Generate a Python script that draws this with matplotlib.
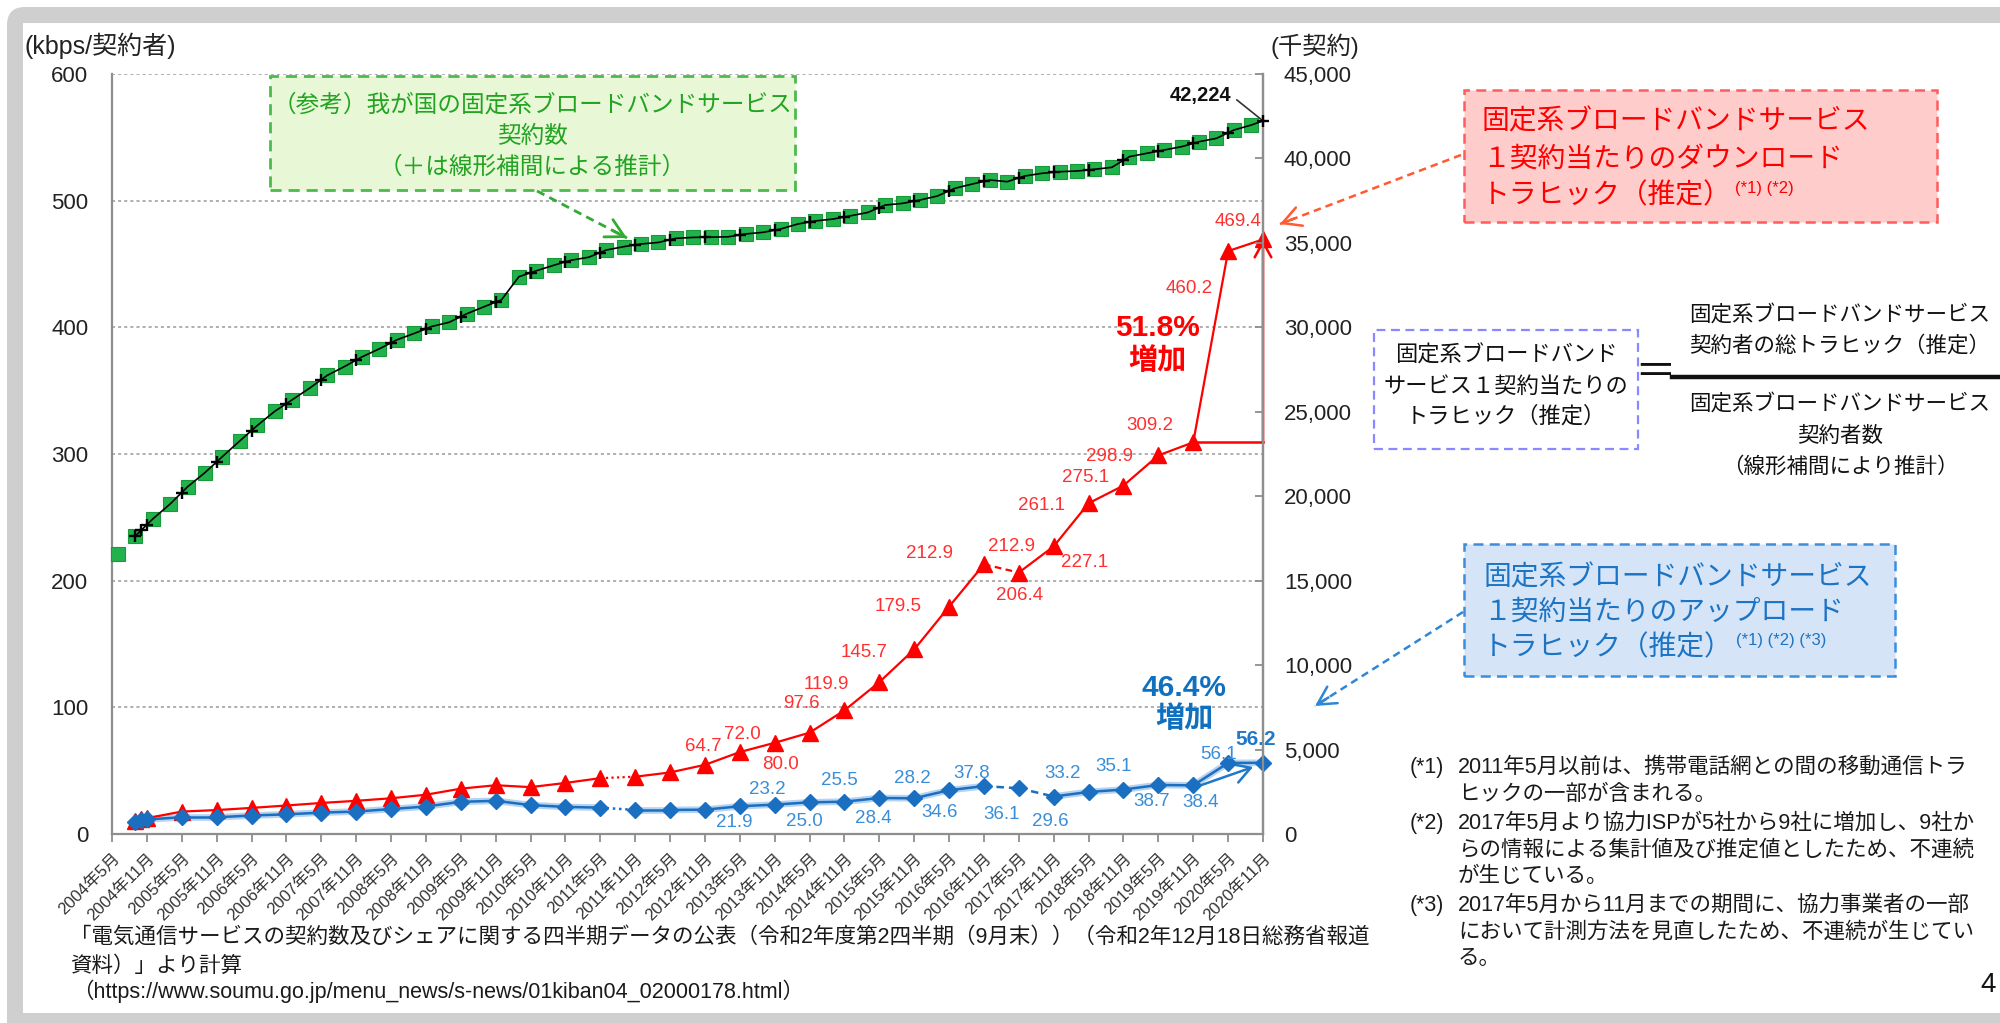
import math
import matplotlib
matplotlib.use("Agg")
import matplotlib.pyplot as plt
from matplotlib.transforms import IdentityTransform
from matplotlib.patches import Rectangle, FancyBboxPatch, FancyArrowPatch
from matplotlib.lines import Line2D
from matplotlib.ticker import FuncFormatter

plt.rcParams['font.family'] = ['Liberation Sans', 'Noto Sans CJK JP', 'DejaVu Sans']
plt.rcParams['axes.unicode_minus'] = False

# ---------------- DATA ----------------
# month index: 0 = 2004年5月, 6 = 2004年11月, ... 198 = 2020年11月
xtick_months = list(range(0, 199, 6))
xtick_labels = [f"{2004 + m // 12}年{5 if m % 12 == 0 else 11}月" for m in xtick_months]

# quarterly broadband subscribers (千契約): Jun 2004 ... Sep 2020
sub_months = list(range(1, 197, 3))
sub_values = [16580, 17640, 18650, 19540, 20560, 21400, 22350, 23280, 24190, 25030,
              25710, 26400, 27150, 27680, 28250, 28730, 29260, 29640, 30050, 30300,
              30800, 31220, 31630, 33000, 33350, 33675, 33975, 34150, 34575, 34775,
              34935, 35025, 35270, 35325, 35340, 35360, 35530, 35625, 35820, 36120,
              36300, 36410, 36600, 36800, 37240, 37340, 37540, 37776, 38232, 38487,
              38724, 38625, 38960, 39120, 39215, 39257, 39356, 39474, 40105, 40304,
              40500, 40697, 40993, 41190, 41684, 41980]
# "+" estimated subscriber counts at traffic months (千契約)
est_months = [4, 5, 6] + list(range(12, 199, 6))
est_values = [17640, 17980, 18310, 20220, 22030, 23890, 25480, 26900, 28060, 29080,
              29910, 30630, 31490, 33230, 33880, 34430, 34880, 35190, 35335, 35470,
              35750, 36240, 36530, 37090, 37470, 38080, 38640, 38850, 39180, 39320,
              39890, 40430, 40890, 41520, 42224]

# traffic per subscriber (kbps)
traffic_months = [4, 5, 6] + list(range(12, 199, 6))
download = [10.0, 11.5, 12.5, 17.7, 18.9, 20.6, 22.5, 24.5, 26.2, 28.2, 31.0, 35.8, 38.5,
            37.0, 40.3, 44.1, 45.2, 48.6, 54.6, 64.7, 72.0, 80.0, 97.6,
            119.9, 145.7, 179.5, 212.9, 206.4, 227.1, 261.1, 275.1, 298.9, 309.2,
            460.2, 469.4]
upload = [9.5, 10.8, 11.5, 13.2, 13.2, 14.6, 15.5, 16.9, 17.7, 19.7, 21.7, 25.4, 26.2,
          22.8, 21.4, 20.8, 19.0, 19.0, 19.2, 21.9, 23.2, 25.0, 25.5,
          28.4, 28.2, 34.6, 37.8, 36.1, 29.6, 33.2, 35.1, 38.7, 38.4,
          56.1, 56.2]
first_labeled = 19  # index of 2013年5月

# label offsets (pixels) for labeled points
down_offsets = [(-37, 6), (-32, 8), (-29, -32), (-43, 7), (-53, -2), (-50, -3), (-51, 0),
                (-54, 11), (1, -23), (31, -16), (-47, -2), (-38, 8), (-49, -1), (-43, 17),
                (-39, -37), (-25, 18)]
up_offsets = [(-6, -16), (-7, 15), (-5, -19), (-5, 21), (-6, -20), (-2, 20), (-9, -22),
              (-12, 13), (-17, -26), (-3, -25), (-26, 18), (-10, 23), (-7, -17), (7, -17),
              (-10, 8), (-7, 23)]

DOT = (0, (1, 1.5))
DASH = (0, (3, 2))
down_breaks = {(84, 90): DOT, (150, 156): DASH}
up_breaks = {(84, 90): DOT, (150, 156): DASH, (156, 162): DASH}

# ---------------- FIGURE ----------------
W, H = 2000, 1023
DPI = 100
fig = plt.figure(figsize=(W / DPI, H / DPI), dpi=DPI, facecolor='white')
ID = IdentityTransform()

frame = FancyBboxPatch((7, H - 1100), 2200, 1093, boxstyle='round,pad=0,rounding_size=18',
                       transform=ID, facecolor='#CFCFCF', edgecolor='none', zorder=-6)
fig.add_artist(frame)
fig.add_artist(Rectangle((23, H - 1013), 2100, 990, transform=ID, facecolor='white',
                         edgecolor='none', zorder=-5))


def T(x, y, s, **kw):
    kw.setdefault('va', 'center')
    return fig.text(x, H - y, s, transform=ID, **kw)


def box(x0, y0, x1, y1, fc, ec, lw=1.8):
    fig.add_artist(Rectangle((x0, H - y1), x1 - x0, y1 - y0, transform=ID, facecolor=fc,
                             edgecolor=ec, lw=lw, ls=(0, (4, 2.5)), zorder=1))


def darrow(x0, y0, x1, y1, color, lw=1.8):
    fig.add_artist(Line2D([x0, x1], [H - y0, H - y1], transform=ID, color=color, lw=lw,
                          ls=(0, (3, 2)), zorder=2))
    d = math.hypot(x1 - x0, y1 - y0)
    ux, uy = (x1 - x0) / d, (y1 - y0) / d
    fig.add_artist(FancyArrowPatch((x1 - ux * 16, H - (y1 - uy * 16)), (x1, H - y1), transform=ID,
                                   arrowstyle='->,head_length=13,head_width=7', mutation_scale=1,
                                   color=color, lw=lw, shrinkA=0, shrinkB=0, zorder=2))


L, R, TOP, BOT = 112, 1263, 74, 834
ax = fig.add_axes([L / W, 1 - BOT / H, (R - L) / W, (BOT - TOP) / H])
ax.patch.set_alpha(0)
ax.set_xlim(0, 198)
ax.set_ylim(0, 600)
ax2 = ax.twinx()
ax2.set_ylim(0, 45000)

grey = '#8E8E8E'
for a in (ax, ax2):
    for s in a.spines.values():
        s.set_color(grey)
        s.set_linewidth(1.6)
    a.spines['top'].set_visible(False)
ax2.spines['left'].set_visible(False)
ax2.spines['bottom'].set_visible(False)

ax.set_yticks(range(0, 601, 100))
ax.yaxis.grid(True, linestyle=(0, (2, 2)), color='#9A9A9A', lw=1.1)
ax.set_axisbelow(True)
ax.tick_params(axis='y', length=0, pad=17, labelsize=16, labelcolor='#222')
ax.set_xticks(xtick_months)
ax.set_xticklabels(xtick_labels, rotation=45, ha='right', va='top', rotation_mode='anchor',
                   fontsize=12, color='#333')
ax.tick_params(axis='x', direction='out', length=6, width=1.3, color=grey, pad=6)

ax2.set_yticks(range(0, 45001, 5000))
ax2.yaxis.set_major_formatter(FuncFormatter(lambda v, p: f"{int(v):,}"))
ax2.tick_params(axis='y', direction='in', length=6, width=1.3, color=grey, pad=15,
                labelsize=16, labelcolor='#222')

# ---- green subscribers ----
ax2.plot(sub_months, sub_values, ls='none', marker='s', ms=9.5, color='#22B24C', mec='#189A3A',
         mew=0.8, zorder=3, clip_on=False)
line_pts = sorted({**{m: v for m, v in zip(sub_months, sub_values) if m >= 4},
                   **dict(zip(est_months, est_values))}.items())
ax2.plot([p[0] for p in line_pts], [p[1] for p in line_pts], color='black', lw=1.2, zorder=4,
         clip_on=False)
ax2.plot(est_months, est_values, ls='none', marker='+', ms=8, mew=1.7, color='black', zorder=5,
         clip_on=False)
ax2.annotate(f"{est_values[-1]:,}", xy=(est_months[-1], est_values[-1]), xytext=(-62, 25),
             textcoords='offset pixels', ha='center', va='center', fontsize=14.5,
             fontweight='bold', color='#111',
             arrowprops=dict(arrowstyle='-', color='#333', lw=1.2, relpos=(1, 0.5),
                             shrinkA=2, shrinkB=0), annotation_clip=False)

# ---- download (red) / upload (blue) ----
RED = '#FF0000'
BLUE = '#1A6FC0'


def draw_series(vals, color, breaks, lw, halo=None):
    for i in range(len(traffic_months) - 1):
        a, b = traffic_months[i], traffic_months[i + 1]
        ls = breaks.get((a, b), '-')
        if halo and ls == '-':
            ax.plot([a, b], [vals[i], vals[i + 1]], color=halo, lw=lw + 3, zorder=2,
                    solid_capstyle='round', clip_on=False)
        ax.plot([a, b], [vals[i], vals[i + 1]], color=color, lw=lw, ls=ls, zorder=3,
                clip_on=False)


draw_series(download, RED, down_breaks, 1.6)
draw_series(upload, BLUE, up_breaks, 1.8, halo='#B5D2F0')
ax.plot(traffic_months, download, ls='none', marker='^', ms=11, color=RED, zorder=4,
        clip_on=False)
ax.plot(traffic_months, upload, ls='none', marker='D', ms=8.5, color=BLUE, zorder=4,
        clip_on=False)

for k, (dx, dy) in enumerate(down_offsets):
    i = first_labeled + k
    ax.annotate(f"{download[i]:.1f}", (traffic_months[i], download[i]), xytext=(dx, dy),
                textcoords='offset pixels', ha='center', va='center', fontsize=13.5,
                color='#FF3030', annotation_clip=False, zorder=6)
# second label at 2017年5月 (value of 2016年11月 on the new basis)
i1611 = traffic_months.index(150)
ax.annotate(f"{download[i1611]:.1f}", (traffic_months[i1611 + 1], download[i1611 + 1]),
            xytext=(-7, 26), textcoords='offset pixels', ha='center', va='center',
            fontsize=13.5, color='#FF3030')

for k, (dx, dy) in enumerate(up_offsets):
    i = first_labeled + k
    last = (i == len(upload) - 1)
    ax.annotate(f"{upload[i]:.1f}", (traffic_months[i], upload[i]), xytext=(dx, dy),
                textcoords='offset pixels', ha='center', va='center',
                fontsize=15 if last else 13.5, fontweight='bold' if last else 'normal',
                color='#1F78C8' if last else '#3A8DD8', annotation_clip=False, zorder=6)

# red bracket: 2019年11月 -> 2020年11月
ax.plot([traffic_months[-3], traffic_months[-1]], [download[-3], download[-3]], color=RED,
        lw=1.8, zorder=4, clip_on=False)
ax.annotate('', xy=(traffic_months[-1], download[-1]),
            xytext=(traffic_months[-1], download[-3]),
            arrowprops=dict(arrowstyle='->,head_length=0.55,head_width=0.3', color=RED, lw=1.8,
                            mutation_scale=20, shrinkA=0, shrinkB=0),
            annotation_clip=False, zorder=5)
# blue arrow
ax.annotate('', xy=(traffic_months[-1] - 1.7, upload[-1] - 3.3),
            xytext=(traffic_months[-3] + 1.5, upload[-3] + 0.4),
            arrowprops=dict(arrowstyle='->,head_length=0.6,head_width=0.35', color='#1F78C8',
                            lw=1.8, mutation_scale=20, shrinkA=0, shrinkB=0),
            annotation_clip=False)

# growth texts
T(1157, 328, "51.8%", ha='center', fontsize=21.5, fontweight='bold', color='#FF0000')
T(1157, 361, "増加", ha='center', fontsize=21, fontweight='bold', color='#FF0000')
T(1184, 688, "46.4%", ha='center', fontsize=21.5, fontweight='bold', color='#1070C0')
T(1184, 719, "増加", ha='center', fontsize=21, fontweight='bold', color='#1070C0')

# axis titles
T(24, 46, "(kbps/契約者)", ha='left', fontsize=18, color='#222')
T(1271, 46, "(千契約)", ha='left', fontsize=17.5, color='#222')

# ---- green reference box ----
box(270, 76, 795, 190, '#E8F8D6', '#4DBA4D', lw=2)
GREEN_T = '#22A322'
T(532, 105, "（参考）我が国の固定系ブロードバンドサービス", ha='center', fontsize=17, color=GREEN_T)
T(532, 137, "契約数", ha='center', fontsize=17, color=GREEN_T)
T(532, 167, "（＋は線形補間による推計）", ha='center', fontsize=17, color=GREEN_T)
darrow(537, 191, 627, 238, '#33AA33', lw=2)

renderer = fig.canvas.get_renderer()

# ---- red box ----
box(1464, 90, 1937, 222, '#FFCCCC', '#FF5C5C')
T(1482, 122, "固定系ブロードバンドサービス", ha='left', fontsize=20, color='#FF0000')
T(1482, 160, "１契約当たりのダウンロード", ha='left', fontsize=20, color='#FF0000')
t = T(1482, 196, "トラヒック（推定）", ha='left', fontsize=20, color='#FF0000')
bb = t.get_window_extent(renderer)
fig.text(bb.x1 + 3, H - 188, "(*1) (*2)", transform=ID, ha='left', va='center', fontsize=12,
         color='#FF0000')
darrow(1461, 155, 1280, 224, '#FF5A30')

# ---- formula ----
box(1374, 330, 1638, 449, 'none', '#8888FF', lw=1.6)
T(1506, 356, "固定系ブロードバンド", ha='center', fontsize=16, color='#111')
T(1506, 387, "サービス１契約当たりの", ha='center', fontsize=16, color='#111')
T(1506, 417, "トラヒック（推定）", ha='center', fontsize=16, color='#111')
T(1655, 374, "＝", ha='center', fontsize=30, color='#111')
fig.add_artist(Line2D([1672, 2000], [H - 377, H - 377], transform=ID, color='#111', lw=3.2))
T(1840, 315, "固定系ブロードバンドサービス", ha='center', fontsize=15.5, color='#111')
T(1840, 346, "契約者の総トラヒック（推定）", ha='center', fontsize=15.5, color='#111')
T(1840, 404, "固定系ブロードバンドサービス", ha='center', fontsize=15.5, color='#111')
T(1840, 436, "契約者数", ha='center', fontsize=15.5, color='#111')
T(1840, 467, "（線形補間により推計）", ha='center', fontsize=15.5, color='#111')

# ---- blue box ----
BLUE_T = '#1C74C4'
box(1464, 544, 1895, 676, '#D6E4F8', '#3C8EDB')
T(1483, 578, "固定系ブロードバンドサービス", ha='left', fontsize=20, color=BLUE_T)
T(1483, 613, "１契約当たりのアップロード", ha='left', fontsize=20, color=BLUE_T)
t = T(1483, 648, "トラヒック（推定）", ha='left', fontsize=20, color=BLUE_T)
bb = t.get_window_extent(renderer)
fig.text(bb.x1 + 3, H - 640, "(*1) (*2) (*3)", transform=ID, ha='left', va='center', fontsize=12,
         color=BLUE_T)
darrow(1463, 612, 1315, 706, '#2E86D6')

# ---- footnotes ----
notes = [("(*1)", ["2011年5月以前は、携帯電話網との間の移動通信トラ", "ヒックの一部が含まれる。"]),
         ("(*2)", ["2017年5月より協力ISPが5社から9社に増加し、9社か",
                   "らの情報による集計値及び推定値としたため、不連続", "が生じている。"]),
         ("(*3)", ["2017年5月から11月までの期間に、協力事業者の一部",
                   "において計測方法を見直したため、不連続が生じてい", "る。"])]
note_y = [[767, 794], [823, 850, 877], [905, 932, 959]]
for (tag, lines), ys in zip(notes, note_y):
    T(1410, ys[0], tag, ha='left', fontsize=15.5, color='#1a1a1a')
    for ln, y in zip(lines, ys):
        T(1458, y, ln, ha='left', fontsize=15.5, color='#1a1a1a')

# ---- source ----
T(70, 937, "「電気通信サービスの契約数及びシェアに関する四半期データの公表（令和2年度第2四半期（9月末））（令和2年12月18日総務省報道",
  ha='left', fontsize=15.5, color='#1a1a1a')
T(70, 966, "資料）」より計算", ha='left', fontsize=15.5, color='#1a1a1a')
T(72, 991, "（https://www.soumu.go.jp/menu_news/s-news/01kiban04_02000178.html）", ha='left',
  fontsize=15.5, color='#1a1a1a')
T(1980, 985, "4", ha='left', fontsize=20, color='#111')

fig.savefig("out.png", dpi=DPI, facecolor=fig.get_facecolor())
